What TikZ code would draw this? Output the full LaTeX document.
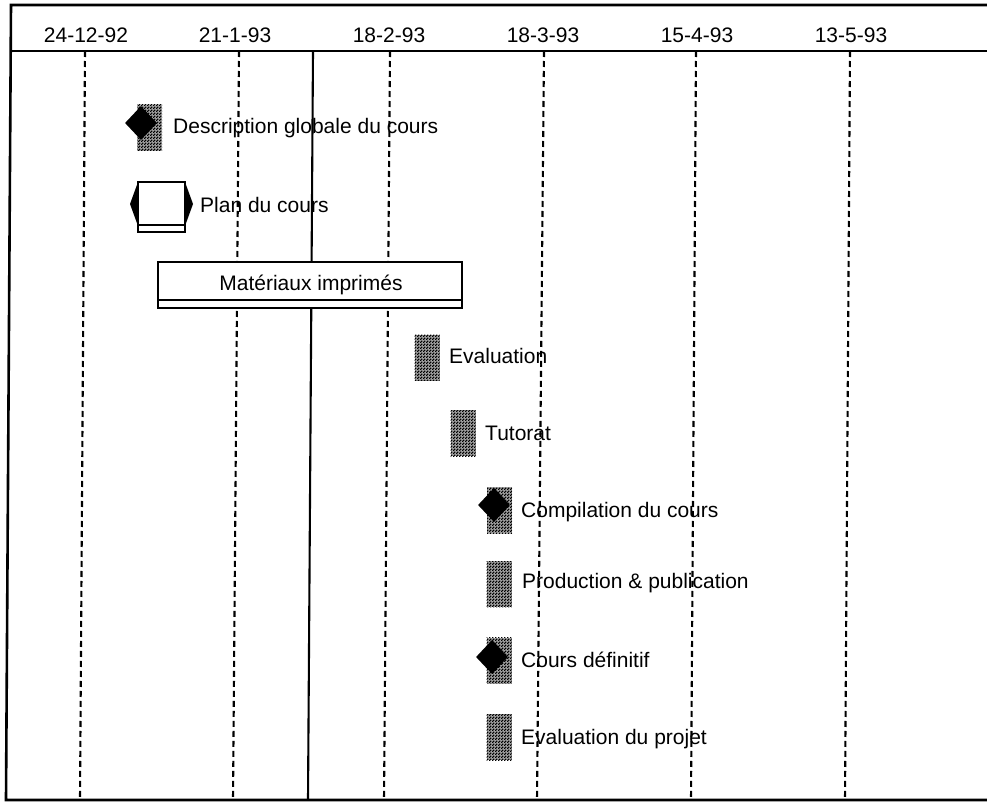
\documentclass[tikz,border=0pt]{standalone}
\usepackage{fontspec}
\setmainfont{Liberation Sans}
\usetikzlibrary{shapes.geometric,patterns}

% fine checkerboard dither used for the task bars
\pgfdeclarepatternformonly{dither}{\pgfpointorigin}{\pgfpoint{3pt}{3pt}}{\pgfpoint{3pt}{3pt}}{%
  \pgfpathrectangle{\pgfpointorigin}{\pgfpoint{1.7pt}{1.7pt}}%
  \pgfpathrectangle{\pgfpoint{1.5pt}{1.5pt}}{\pgfpoint{1.7pt}{1.7pt}}%
  \pgfusepath{fill}}

\tikzset{
  frame/.style={line width=2.6pt},
  gridline/.style={line width=2.1pt, dash pattern=on 6pt off 4pt},
  nowline/.style={line width=2.1pt},
  datelbl/.style={anchor=base, inner sep=0pt, font=\fontsize{21pt}{25pt}\selectfont},
  lbl/.style={anchor=base west, inner sep=0pt, font=\fontsize{21pt}{25pt}\selectfont},
  taskbar/.style={draw=none, fill=black!35,
    postaction={pattern=dither, pattern color=black},
    minimum width=25pt, minimum height=46pt, inner sep=0pt},
  milestone/.style={diamond, fill=black, draw=none, inner sep=0pt,
    minimum width=32pt, minimum height=34pt},
  boxline/.style={line width=2.1pt},
}

\begin{document}
\begin{tikzpicture}[x=1pt, y=-1pt]
\useasboundingbox (0,0) rectangle (987,811);

% outer frame (open on the right) and header rule
\coordinate (ftl) at (11,5);
\coordinate (ftr) at (987,5);
\coordinate (fbl) at (6,800);
\coordinate (fbr) at (987,800);
\coordinate (hl) at (10,51);
\coordinate (hr) at (987,51);
\draw[frame] (ftr) -- (ftl) -- (fbl) -- (fbr);
\draw[frame] (hl) -- (hr);

% week grid lines
\foreach \n/\xt/\xb in {a/85/80, b/239/233, c/390/384, d/544/537, e/696/691, f/850/845} {
  \coordinate (g\n t) at (\xt,51);
  \coordinate (g\n b) at (\xb,800);
  \draw[gridline] (g\n t) -- (g\n b);
}
% current date line
\coordinate (nowt) at (313,51);
\coordinate (nowb) at (308,800);
\draw[nowline] (nowt) -- (nowb);

% date header
\node[datelbl] (d1) at (86,42) {24-12-92};
\node[datelbl] (d2) at (235,42) {21-1-93};
\node[datelbl] (d3) at (389,42) {18-2-93};
\node[datelbl] (d4) at (543,42) {18-3-93};
\node[datelbl] (d5) at (697,42) {15-4-93};
\node[datelbl] (d6) at (851,42) {13-5-93};

% Description globale du cours
\node[taskbar] (b1) at (149.5,127.5) {};
\node[milestone] (m1) at (141,123) {};
\node[lbl] (t1) at (173,133) {Description globale du cours};

% Plan du cours
\fill[white] (138,182) rectangle (185,232);
\draw[boxline] (138,182) rectangle (185,232);
\draw[boxline] (138,225) -- (185,225);
\fill (138,182) -- (130,204) -- (138,226) -- cycle;
\fill (185,182) -- (193,204) -- (185,226) -- cycle;
\node[lbl] (t2) at (200,212) {Plan du cours};

% Matériaux imprimés
\fill[white] (158,262) rectangle (462,308);
\draw[boxline] (158,262) rectangle (462,308);
\draw[boxline] (158,300) -- (462,300);
\node[datelbl] (t3) at (311,290) {Matériaux imprimés};

% Evaluation
\node[taskbar] (b4) at (427,357.5) {};
\node[lbl] (t4) at (449,363) {Evaluation};

% Tutorat
\node[taskbar] (b5) at (463,433) {};
\node[lbl] (t5) at (485,440) {Tutorat};

% Compilation du cours
\node[taskbar] (b6) at (499.5,510) {};
\node[milestone] (m6) at (494,505) {};
\node[lbl] (t6) at (521,517) {Compilation du cours};

% Production & publication
\node[taskbar] (b7) at (499,584) {};
\node[lbl] (t7) at (522,588) {Production \& publication};

% Cours définitif
\node[taskbar] (b8) at (499,660.5) {};
\node[milestone] (m8) at (492,657) {};
\node[lbl] (t8) at (521,667) {Cours définitif};

% Evaluation du projet
\node[taskbar] (b9) at (499,737) {};
\node[lbl] (t9) at (521,744) {Evaluation du projet};

\end{tikzpicture}
\end{document}
